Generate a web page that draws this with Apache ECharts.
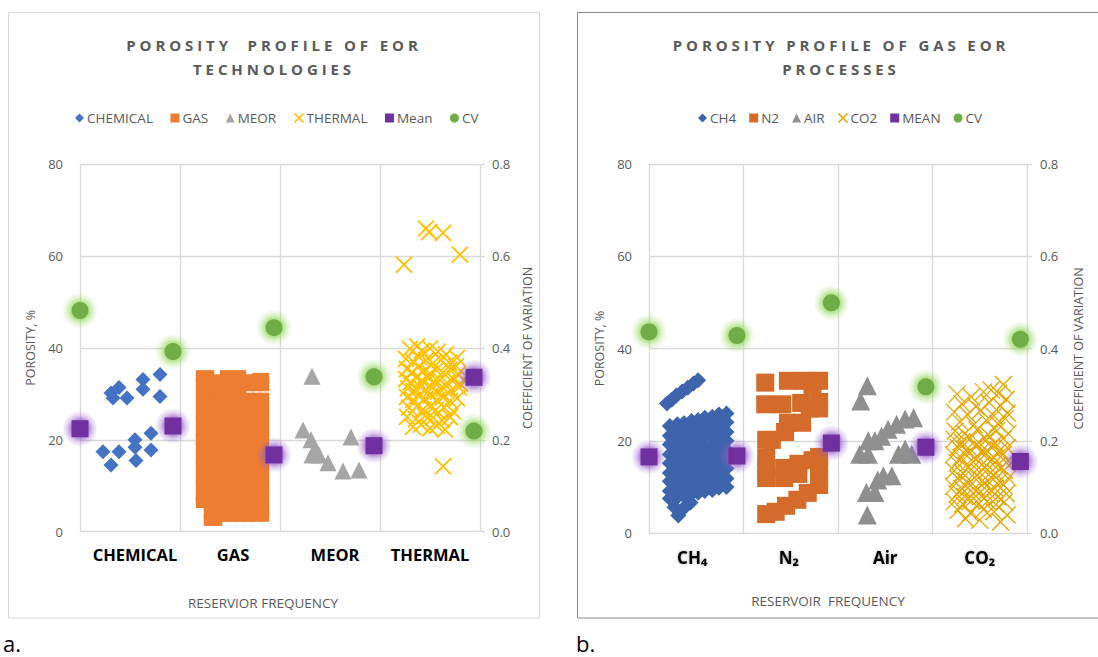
<!DOCTYPE html>
<html>
<head>
<meta charset="utf-8">
<script src="https://cdn.jsdelivr.net/npm/echarts@6.0.0/dist/echarts.min.js"></script>
<style>
  html, body { margin: 0; padding: 0; background: #ffffff; }
  #wrap { position: relative; width: 1098px; height: 657px; overflow: hidden; }
  #chartA { position: absolute; left: 0; top: 0; width: 570px; height: 657px; }
  #chartB { position: absolute; left: 570px; top: 0; width: 528px; height: 657px; }
  svg text { white-space: pre; }
  /* widely tracked capitals used by the two chart headings */
  svg text[style*="Tracked"] { letter-spacing: 3.9px; }
</style>
</head>
<body>
<div id="wrap"><div id="chartA"></div><div id="chartB"></div></div>
<script>
// ---------- Panel a: EOR technologies ----------
const catA = ['CHEMICAL', 'GAS', 'MEOR', 'THERMAL'];

const chemicalPts = [
  [0.31, 30.2], [0.39, 31.4], [0.47, 29.1], [0.33, 29.1],
  [0.63, 33.1], [0.63, 31.0], [0.80, 34.2], [0.80, 29.4],
  [0.23, 17.4], [0.39, 17.4], [0.31, 14.5], [0.55, 20.0],
  [0.55, 18.4], [0.56, 15.5], [0.71, 21.4], [0.71, 17.8]
];

// gas reservoirs: x position of each column and the porosities stacked in it
const gasX = [1.21, 1.29, 1.37, 1.45, 1.53, 1.61, 1.69, 1.77, 1.84];
const gasY = [
  [34.0, 32.0, 30.0, 28.0, 26.0, 24.0, 22.0, 20.0, 18.0, 16.0, 14.0, 12.0, 10.0, 8.0, 6.3],
  [34.0, 32.0, 30.0, 28.0, 26.0, 24.0, 22.0, 20.0, 18.0, 16.0, 14.0, 12.0, 10.0, 8.0, 6.0, 4.0, 2.4],
  [33.1, 31.0, 29.0, 27.0, 25.0, 23.0, 21.0, 19.0, 17.0, 15.0, 13.0, 11.0, 9.0, 7.0, 5.0, 3.0, 2.4],
  [34.0, 32.0, 30.0, 28.0, 26.0, 24.0, 22.0, 20.0, 18.0, 16.0, 14.0, 12.0, 10.0, 8.0, 6.0, 4.0, 3.3],
  [34.0, 32.0, 30.0, 28.0, 26.0, 24.0, 22.0, 20.0, 18.0, 16.0, 14.0, 12.0, 10.0, 8.0, 6.0, 4.0, 3.3],
  [34.0, 32.0, 30.0, 28.0, 26.0, 24.0, 22.0, 20.0, 18.0, 16.0, 14.0, 12.0, 10.0, 8.0, 6.0, 4.0, 3.3],
  [33.1, 31.7, 29.1, 27.0, 25.0, 23.0, 21.0, 19.0, 17.0, 15.0, 13.0, 11.0, 9.0, 7.0, 5.0, 3.3],
  [33.4, 31.7, 29.1, 27.1, 25.1, 23.1, 21.1, 19.1, 17.1, 15.1, 13.1, 11.1, 9.1, 7.1, 5.1, 3.3],
  [33.4, 31.7, 29.1, 27.0, 25.0, 23.0, 21.0, 19.0, 17.0, 15.0, 13.0, 11.0, 9.0, 7.0, 5.0, 3.3]
];

const meorPts = [
  [2.32, 33.8], [2.23, 22.1], [2.31, 20.0], [2.35, 18.0], [2.32, 16.7],
  [2.39, 16.7], [2.48, 15.0], [2.63, 13.2], [2.79, 13.4], [2.71, 20.6]
];

const thermalPts = [
  [3.46, 66.0], [3.49, 65.2], [3.63, 65.0], [3.80, 60.3], [3.24, 58.1], [3.63, 14.2],
  [3.30, 39.8], [3.37, 40.3], [3.42, 39.4], [3.50, 39.9], [3.58, 39.2], [3.66, 38.6], [3.77, 37.8],
  [3.26, 37.6], [3.33, 37.0], [3.39, 38.0], [3.46, 37.3], [3.53, 36.6], [3.61, 37.4], [3.69, 36.8], [3.76, 36.0],
  [3.27, 35.4], [3.32, 34.7], [3.38, 35.8], [3.44, 35.0], [3.50, 34.4], [3.56, 35.2], [3.63, 34.6], [3.70, 35.3], [3.78, 34.3],
  [3.26, 33.2], [3.31, 32.5], [3.36, 33.6], [3.42, 32.9], [3.48, 33.4], [3.54, 32.6], [3.60, 33.0], [3.67, 32.4], [3.74, 33.1], [3.80, 32.2],
  [3.28, 31.2], [3.34, 30.6], [3.40, 31.5], [3.46, 30.9], [3.52, 31.3], [3.58, 30.5], [3.64, 31.1], [3.71, 30.7], [3.79, 31.4],
  [3.27, 29.3], [3.33, 28.7], [3.39, 29.5], [3.45, 28.9], [3.51, 29.6], [3.57, 28.6], [3.63, 29.2], [3.70, 28.4], [3.77, 29.0],
  [3.29, 27.0], [3.37, 27.4], [3.43, 26.6], [3.50, 27.2], [3.56, 26.5], [3.64, 27.0], [3.73, 26.2],
  [3.27, 25.0], [3.36, 24.5], [3.45, 25.2], [3.53, 24.8], [3.62, 24.3], [3.70, 24.9],
  [3.33, 22.8], [3.41, 23.3], [3.50, 22.5], [3.57, 23.0], [3.65, 22.2]
];

const meanA = [[0.00, 22.4], [0.93, 23.0], [1.94, 16.7], [2.94, 18.7], [3.94, 33.6]];
const cvA   = [[0.00, 0.481], [0.93, 0.392], [1.94, 0.444], [2.94, 0.337], [3.94, 0.219]];

// ---------- Panel b: gas EOR processes ----------
const catB = ['CH\u2084', 'N\u2082', 'Air', 'CO\u2082'];

// methane: columns of x positions, each row lists porosities along those columns
const ch4X = [0.22, 0.30, 0.37, 0.45, 0.52, 0.59, 0.67, 0.74, 0.82];
const ch4Rows = [
  [23.2, 23.6, 23.8, 24.3, 24.5, 25.0, 25.2, 25.7, 25.9],
  [21.1, 21.5, 21.9, 22.1, 22.6, 22.8, 23.3, 23.5, 24.0],
  [19.2, 19.4, 19.9, 20.2, 20.5, 21.0, 21.2, 21.7, 21.9],
  [17.0, 17.5, 17.7, 18.2, 18.4, 18.9, 19.2, 19.5, 20.0],
  [15.1, 15.4, 15.8, 16.1, 16.6, 16.8, 17.3, 17.5, 18.0],
  [13.0, 13.5, 13.7, 14.2, 14.4, 14.9, 15.1, 15.6, 15.8],
  [11.2, 11.4, 11.9, 12.1, 12.6, 12.8, 13.3, 13.5, 14.0],
  [9.1, 9.5, 9.8, 10.2, 10.4, 10.9, 11.1, 11.6, 11.8],
  [7.5, 7.8, 8.1, 8.5, 8.7, 9.1, 9.3, 9.8, 10.0]
];
const ch4Extra = [
  [0.19, 28.1], [0.24, 28.9], [0.29, 29.8], [0.35, 30.7], [0.41, 31.5], [0.47, 32.4], [0.52, 33.1],
  [0.31, 3.8], [0.27, 5.6], [0.37, 5.4], [0.44, 6.6]
];

const n2Pts = [
  [1.23, 32.6], [1.47, 33.0], [1.65, 33.0], [1.80, 33.0], [1.73, 31.7],
  [1.23, 27.9], [1.41, 27.9], [1.61, 28.2], [1.80, 28.4],
  [1.70, 27.0], [1.80, 27.0], [1.47, 23.9], [1.62, 23.9], [1.44, 21.9], [1.30, 20.2],
  [1.24, 20.2], [1.24, 16.3], [1.24, 13.7], [1.24, 11.9],
  [1.43, 14.1], [1.43, 11.9], [1.58, 15.0], [1.58, 12.8], [1.73, 15.8], [1.80, 16.5], [1.80, 14.3],
  [1.24, 4.1], [1.34, 4.6], [1.45, 5.9], [1.57, 7.2], [1.68, 8.7], [1.80, 10.4], [1.80, 11.9]
];

const airPts = [
  [2.31, 31.9], [2.24, 28.6],
  [2.32, 20.0], [2.39, 20.0], [2.46, 21.0], [2.53, 22.5], [2.62, 23.6], [2.71, 24.7], [2.80, 25.0],
  [2.23, 17.1], [2.32, 17.1], [2.64, 17.1], [2.71, 18.2], [2.78, 17.1],
  [2.48, 12.4], [2.57, 12.4], [2.42, 11.5],
  [2.30, 8.8], [2.39, 8.8], [2.31, 3.9]
];

const co2Pts = [
  [3.75, 32.2], [3.62, 31.0], [3.70, 30.3],
  [3.26, 30.1], [3.41, 29.5], [3.54, 30.6], [3.78, 29.0],
  [3.31, 28.0], [3.46, 27.4], [3.60, 28.3], [3.72, 27.6],
  [3.23, 26.2], [3.37, 25.7], [3.51, 26.6], [3.65, 25.4], [3.79, 26.0],
  [3.29, 24.1], [3.44, 23.5], [3.57, 24.4], [3.69, 23.7], [3.77, 24.8],
  [3.24, 22.1], [3.34, 21.5], [3.47, 22.4], [3.59, 21.3], [3.68, 22.2], [3.80, 21.6],
  [3.23, 20.3], [3.31, 19.8], [3.40, 20.5], [3.49, 19.6], [3.57, 20.2], [3.66, 19.5], [3.75, 20.4],
  [3.27, 18.6], [3.36, 18.1], [3.45, 18.9], [3.53, 18.0], [3.62, 18.7], [3.71, 17.9], [3.79, 18.5],
  [3.22, 17.0], [3.30, 16.4], [3.39, 17.2], [3.48, 16.5], [3.56, 17.1], [3.65, 16.3], [3.74, 16.9],
  [3.26, 15.2], [3.35, 14.6], [3.43, 15.4], [3.52, 14.8], [3.61, 15.5], [3.69, 14.7], [3.78, 15.3],
  [3.23, 13.5], [3.32, 13.0], [3.41, 13.8], [3.50, 13.1], [3.58, 13.7], [3.67, 12.9], [3.76, 13.6],
  [3.27, 11.8], [3.36, 11.2], [3.44, 12.0], [3.53, 11.4], [3.62, 12.1], [3.71, 11.3], [3.80, 11.9],
  [3.22, 10.1], [3.31, 9.6], [3.40, 10.3], [3.48, 9.5], [3.57, 10.2], [3.66, 9.7], [3.75, 10.4],
  [3.26, 8.4], [3.34, 7.9], [3.43, 8.6], [3.52, 8.0], [3.60, 8.7], [3.69, 7.8], [3.78, 8.5],
  [3.23, 6.8], [3.32, 6.3], [3.41, 7.0], [3.49, 6.4], [3.58, 6.9], [3.67, 6.2], [3.76, 6.7],
  [3.27, 4.9], [3.40, 4.3], [3.54, 5.1], [3.65, 4.6], [3.79, 3.9], [3.35, 3.1], [3.72, 2.4], [3.50, 2.8]
];

const meanB = [[0.00, 16.5], [0.93, 16.7], [1.93, 19.5], [2.93, 18.6], [3.93, 15.5]];
const cvB   = [[0.00, 0.436], [0.93, 0.428], [1.93, 0.499], [2.93, 0.317], [3.93, 0.420]];

// ---------- shared drawing helpers ----------
const FONT = 'Open Sans';
const TEXT_GREY = '#595959';
const GRID_LINE = '#d9d9d9';
const X_MARK = 'path://M0,0L10,10M10,0L0,10';

function halo(r, g, b) {
  return {
    type: 'radial', x: 0.5, y: 0.5, r: 0.5,
    colorStops: [
      { offset: 0, color: `rgba(${r},${g},${b},0.85)` },
      { offset: 0.5, color: `rgba(${r},${g},${b},0.7)` },
      { offset: 0.72, color: `rgba(${r},${g},${b},0.3)` },
      { offset: 1, color: `rgba(${r},${g},${b},0)` }
    ]
  };
}
const PURPLE_GLOW = halo(150, 90, 200);
const GREEN_GLOW = halo(150, 215, 95);

function columnsToPoints(xs, cols) {
  const out = [];
  xs.forEach((x, i) => cols[i].forEach(y => out.push([x, y])));
  return out;
}
function rowsToPoints(xs, rows) {
  const out = [];
  rows.forEach(r => r.forEach((y, i) => out.push([xs[i], y])));
  return out;
}

function baseSeries(name, data, symbol, size, yAxis, itemStyle) {
  return {
    name, type: 'scatter', data, symbol, symbolSize: size,
    xAxisIndex: 0, yAxisIndex: yAxis || 0,
    itemStyle: Object.assign({ opacity: 1 }, itemStyle),
    clip: false, silent: true, emphasis: { disabled: true }, animation: false
  };
}

function markSeries(g) {
  const style = g.stroke
    ? { color: 'rgba(0,0,0,0)', borderColor: g.color, borderWidth: g.stroke }
    : { color: g.color };
  const list = [];
  if (g.glow) {
    // soft halo drawn underneath the marker
    list.push(baseSeries(g.name + ' halo', g.data, 'circle', g.size + 19, g.yAxis, { color: g.glow }));
  }
  list.push(baseSeries(g.name, g.data, g.symbol, g.size, g.yAxis, style));
  return list;
}

function legendEntry(g) {
  const e = { name: g.name, icon: g.legendIcon };
  if (g.stroke) e.itemStyle = { color: 'rgba(0,0,0,0)', borderColor: g.color, borderWidth: 1.6 };
  else e.itemStyle = { color: g.color };
  return e;
}

function buildPanel(p) {
  const cats = p.categories.map((c, i) => ({
    value: c,
    textStyle: { padding: [0, Math.max(0, -p.catShift[i]) * 2, 0, Math.max(0, p.catShift[i]) * 2] }
  }));
  return {
    animation: false,
    backgroundColor: 'transparent',
    graphic: [
      { type: 'rect', shape: p.frame, style: { fill: 'none', stroke: p.frameColor, lineWidth: 1 }, silent: true },
      { type: 'text', x: p.titleX, y: 45, style: { text: p.title[0], fill: TEXT_GREY, font: 'bold 15px Open Sans, Tracked', textAlign: 'center', textVerticalAlign: 'middle' } },
      { type: 'text', x: p.titleX, y: 69, style: { text: p.title[1], fill: TEXT_GREY, font: 'bold 15px Open Sans, Tracked', textAlign: 'center', textVerticalAlign: 'middle' } },
      { type: 'text', x: p.tagX, y: 643, style: { text: p.tag, fill: '#000000', font: '22px Open Sans', lineHeight: 24, textAlign: 'left', textVerticalAlign: 'middle' } }
    ],
    legend: {
      left: p.legendLeft, top: 106, itemWidth: 9, itemHeight: 9, itemGap: p.legendGap,
      selectedMode: false,
      textStyle: { color: TEXT_GREY, fontSize: 13.5, fontFamily: FONT, padding: [0, 0, 0, -2] },
      data: p.groups.map(legendEntry)
    },
    grid: p.grid,
    xAxis: [
      {
        type: 'value', min: 0, max: 4, interval: 1,
        axisLine: { show: false }, axisTick: { show: false }, axisLabel: { show: false },
        splitLine: { show: true, lineStyle: { color: GRID_LINE, width: 1.3 } }
      },
      {
        type: 'category', data: cats, position: 'bottom', boundaryGap: true,
        axisLine: { show: false }, axisTick: { show: false }, splitLine: { show: false },
        axisLabel: p.catLabel,
        name: p.xName, nameLocation: 'middle', nameGap: p.xNameGap,
        nameTextStyle: { color: TEXT_GREY, fontSize: 13.5, fontFamily: FONT, padding: p.xNamePad }
      }
    ],
    yAxis: [
      {
        type: 'value', min: 0, max: 80, interval: 20, position: 'left',
        name: 'POROSITY, %', nameLocation: 'middle', nameRotate: 90, nameGap: p.leftNameGap,
        nameTextStyle: { color: TEXT_GREY, fontSize: 12.5, fontFamily: FONT },
        axisLine: { show: false }, axisTick: { show: false },
        axisLabel: { color: TEXT_GREY, fontSize: 13, fontFamily: FONT, margin: 17 },
        splitLine: { show: true, lineStyle: { color: GRID_LINE, width: 1.3 } }
      },
      {
        type: 'value', min: 0, max: 0.8, interval: 0.2, position: 'right',
        name: 'COEFFICIENT OF VARIATION', nameLocation: 'middle', nameRotate: 90, nameGap: p.rightNameGap,
        nameTextStyle: { color: TEXT_GREY, fontSize: 12.5, fontFamily: FONT },
        axisLine: { show: false },
        axisTick: { show: true, length: 5, lineStyle: { color: GRID_LINE, width: 1.3 } },
        axisLabel: { color: TEXT_GREY, fontSize: 13, fontFamily: FONT, margin: p.rightLabelMargin, formatter: v => v.toFixed(1) },
        splitLine: { show: false }
      }
    ],
    series: p.groups.flatMap(markSeries)
  };
}

// ---------- panel a ----------
const panelA = buildPanel({
  frame: { x: 8.5, y: 12.5, width: 531, height: 605.5 },
  frameColor: '#d9d9d9',
  title: ['POROSITY  PROFILE OF EOR', 'TECHNOLOGIES'],
  titleX: 274,
  tag: 'a.', tagX: 3,
  legendLeft: 70, legendGap: 17.5,
  grid: { left: 80, top: 164, width: 400, height: 367.7 },
  categories: catA, catShift: [5, 3, 5, 0],
  catLabel: { color: '#000000', fontSize: 16.5, fontWeight: 'bold', fontFamily: FONT, margin: 14, interval: 0 },
  xName: 'RESERVIOR FREQUENCY', xNameGap: 64.5, xNamePad: [0, 34, 0, 0],
  leftNameGap: 40, rightNameGap: 38, rightLabelMargin: 12,
  groups: [
    { name: 'CHEMICAL', data: chemicalPts, symbol: 'diamond', size: 15, color: '#4472C4', legendIcon: 'diamond' },
    { name: 'GAS', data: columnsToPoints(gasX, gasY), symbol: 'rect', size: 10.5, color: '#ED7D31', legendIcon: 'rect' },
    { name: 'MEOR', data: meorPts, symbol: 'triangle', size: 17, color: '#A5A5A5', legendIcon: 'triangle' },
    { name: 'THERMAL', data: thermalPts, symbol: X_MARK, size: 16, color: '#FFC000', stroke: 1.8, legendIcon: X_MARK },
    { name: 'Mean', data: meanA, symbol: 'rect', size: 17, color: '#7030A0', glow: PURPLE_GLOW, legendIcon: 'rect' },
    { name: 'CV', data: cvA, symbol: 'circle', size: 17, color: '#70AD47', yAxis: 1, glow: GREEN_GLOW, legendIcon: 'circle' }
  ]
});

// ---------- panel b ----------
const subLabel = {
  color: '#000000', fontSize: 17, fontWeight: 'bold', fontFamily: FONT, margin: 16, interval: 0,
  textShadowColor: 'rgba(0,0,0,0.35)', textShadowBlur: 3
};
const panelB = buildPanel({
  frame: { x: 7.5, y: 12.5, width: 560, height: 605.5 },
  frameColor: '#8c8c8c',
  title: ['POROSITY PROFILE OF GAS EOR', 'PROCESSES'],
  titleX: 271,
  tag: 'b.', tagX: 6,
  legendLeft: 123, legendGap: 13,
  grid: { left: 79, top: 164, width: 378, height: 369 },
  categories: catB, catShift: [-4, -2, 0, 0],
  catLabel: subLabel,
  xName: 'RESERVOIR  FREQUENCY', xNameGap: 60.5, xNamePad: [0, 20, 0, 0],
  leftNameGap: 40, rightNameGap: 45, rightLabelMargin: 13,
  groups: [
    { name: 'CH4', data: rowsToPoints(ch4X, ch4Rows).concat(ch4Extra), symbol: 'diamond', size: 16, color: '#3E64AE', legendIcon: 'diamond' },
    { name: 'N2', data: n2Pts, symbol: 'rect', size: 18, color: '#D46B2B', legendIcon: 'rect' },
    { name: 'AIR', data: airPts, symbol: 'triangle', size: 19, color: '#8F8F8F', legendIcon: 'triangle' },
    { name: 'CO2', data: co2Pts, symbol: X_MARK, size: 17, color: '#E3A600', stroke: 1.3, legendIcon: X_MARK },
    { name: 'MEAN', data: meanB, symbol: 'rect', size: 17, color: '#7030A0', glow: PURPLE_GLOW, legendIcon: 'rect' },
    { name: 'CV', data: cvB, symbol: 'circle', size: 17, color: '#70AD47', yAxis: 1, glow: GREEN_GLOW, legendIcon: 'circle' }
  ]
});

const chartA = echarts.init(document.getElementById('chartA'), null, { renderer: 'svg' });
chartA.setOption(panelA);
const chartB = echarts.init(document.getElementById('chartB'), null, { renderer: 'svg' });
chartB.setOption(panelB);
</script>
</body>
</html>
